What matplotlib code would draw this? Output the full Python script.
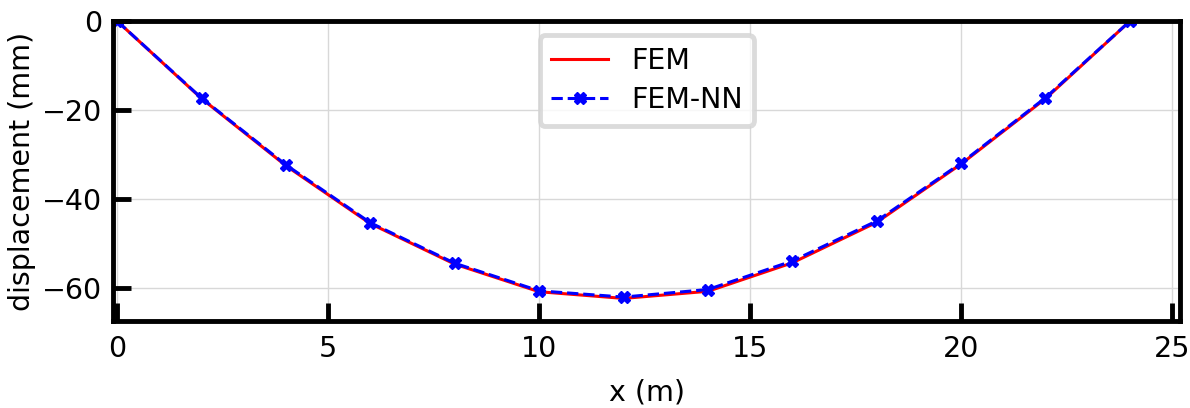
import matplotlib
matplotlib.use("Agg")
import matplotlib.pyplot as plt

x = [0, 2, 4, 6, 8, 10, 12, 14, 16, 18, 20, 22, 24]
fem = [0, -17.4, -32.5, -45.5, -54.6, -60.8, -62.3, -60.7, -54.3, -45.2, -32.1, -17.4, 0]
fem_nn = [0, -17.3, -32.3, -45.3, -54.4, -60.6, -62.0, -60.3, -53.9, -44.9, -31.9, -17.2, 0]

fs = 20.5
fig = plt.figure(figsize=(11.9, 4.08), dpi=100)
ax = fig.add_axes([0.095, 0.213, 0.897, 0.735])
ax.plot(x, fem, color="red", linestyle="-", linewidth=2.2, label="FEM")
ax.plot(x, fem_nn, color="blue", linestyle="--", linewidth=2.2, marker="X",
        markersize=9, label="FEM-NN")
ax.set_xlim(-0.1, 25.2)
ax.set_ylim(-67.4, 0)
ax.set_xticks([0, 5, 10, 15, 20, 25])
ax.set_yticks([0, -20, -40, -60])
ax.grid(True, color="#d8d8d8", linewidth=1.0)
ax.set_axisbelow(True)
for s in ax.spines.values():
    s.set_linewidth(3.5)
ax.tick_params(direction="in", length=13, width=3.5, labelsize=fs)
ax.tick_params(axis="y", pad=8)
ax.tick_params(axis="x", pad=10)
ax.set_xlabel("x (m)", fontsize=fs, labelpad=11)
ax.set_ylabel("displacement (mm)", fontsize=fs, labelpad=4)
leg = ax.legend(loc="upper center", fontsize=fs, frameon=True, fancybox=True,
                borderpad=0.4, handlelength=2.0, handletextpad=0.8,
                labelspacing=0.4, bbox_to_anchor=(0.5, 1.0))
leg.get_frame().set_edgecolor("#d3d3d3")
leg.get_frame().set_linewidth(3.5)
fig.savefig("out.png", dpi=100)
